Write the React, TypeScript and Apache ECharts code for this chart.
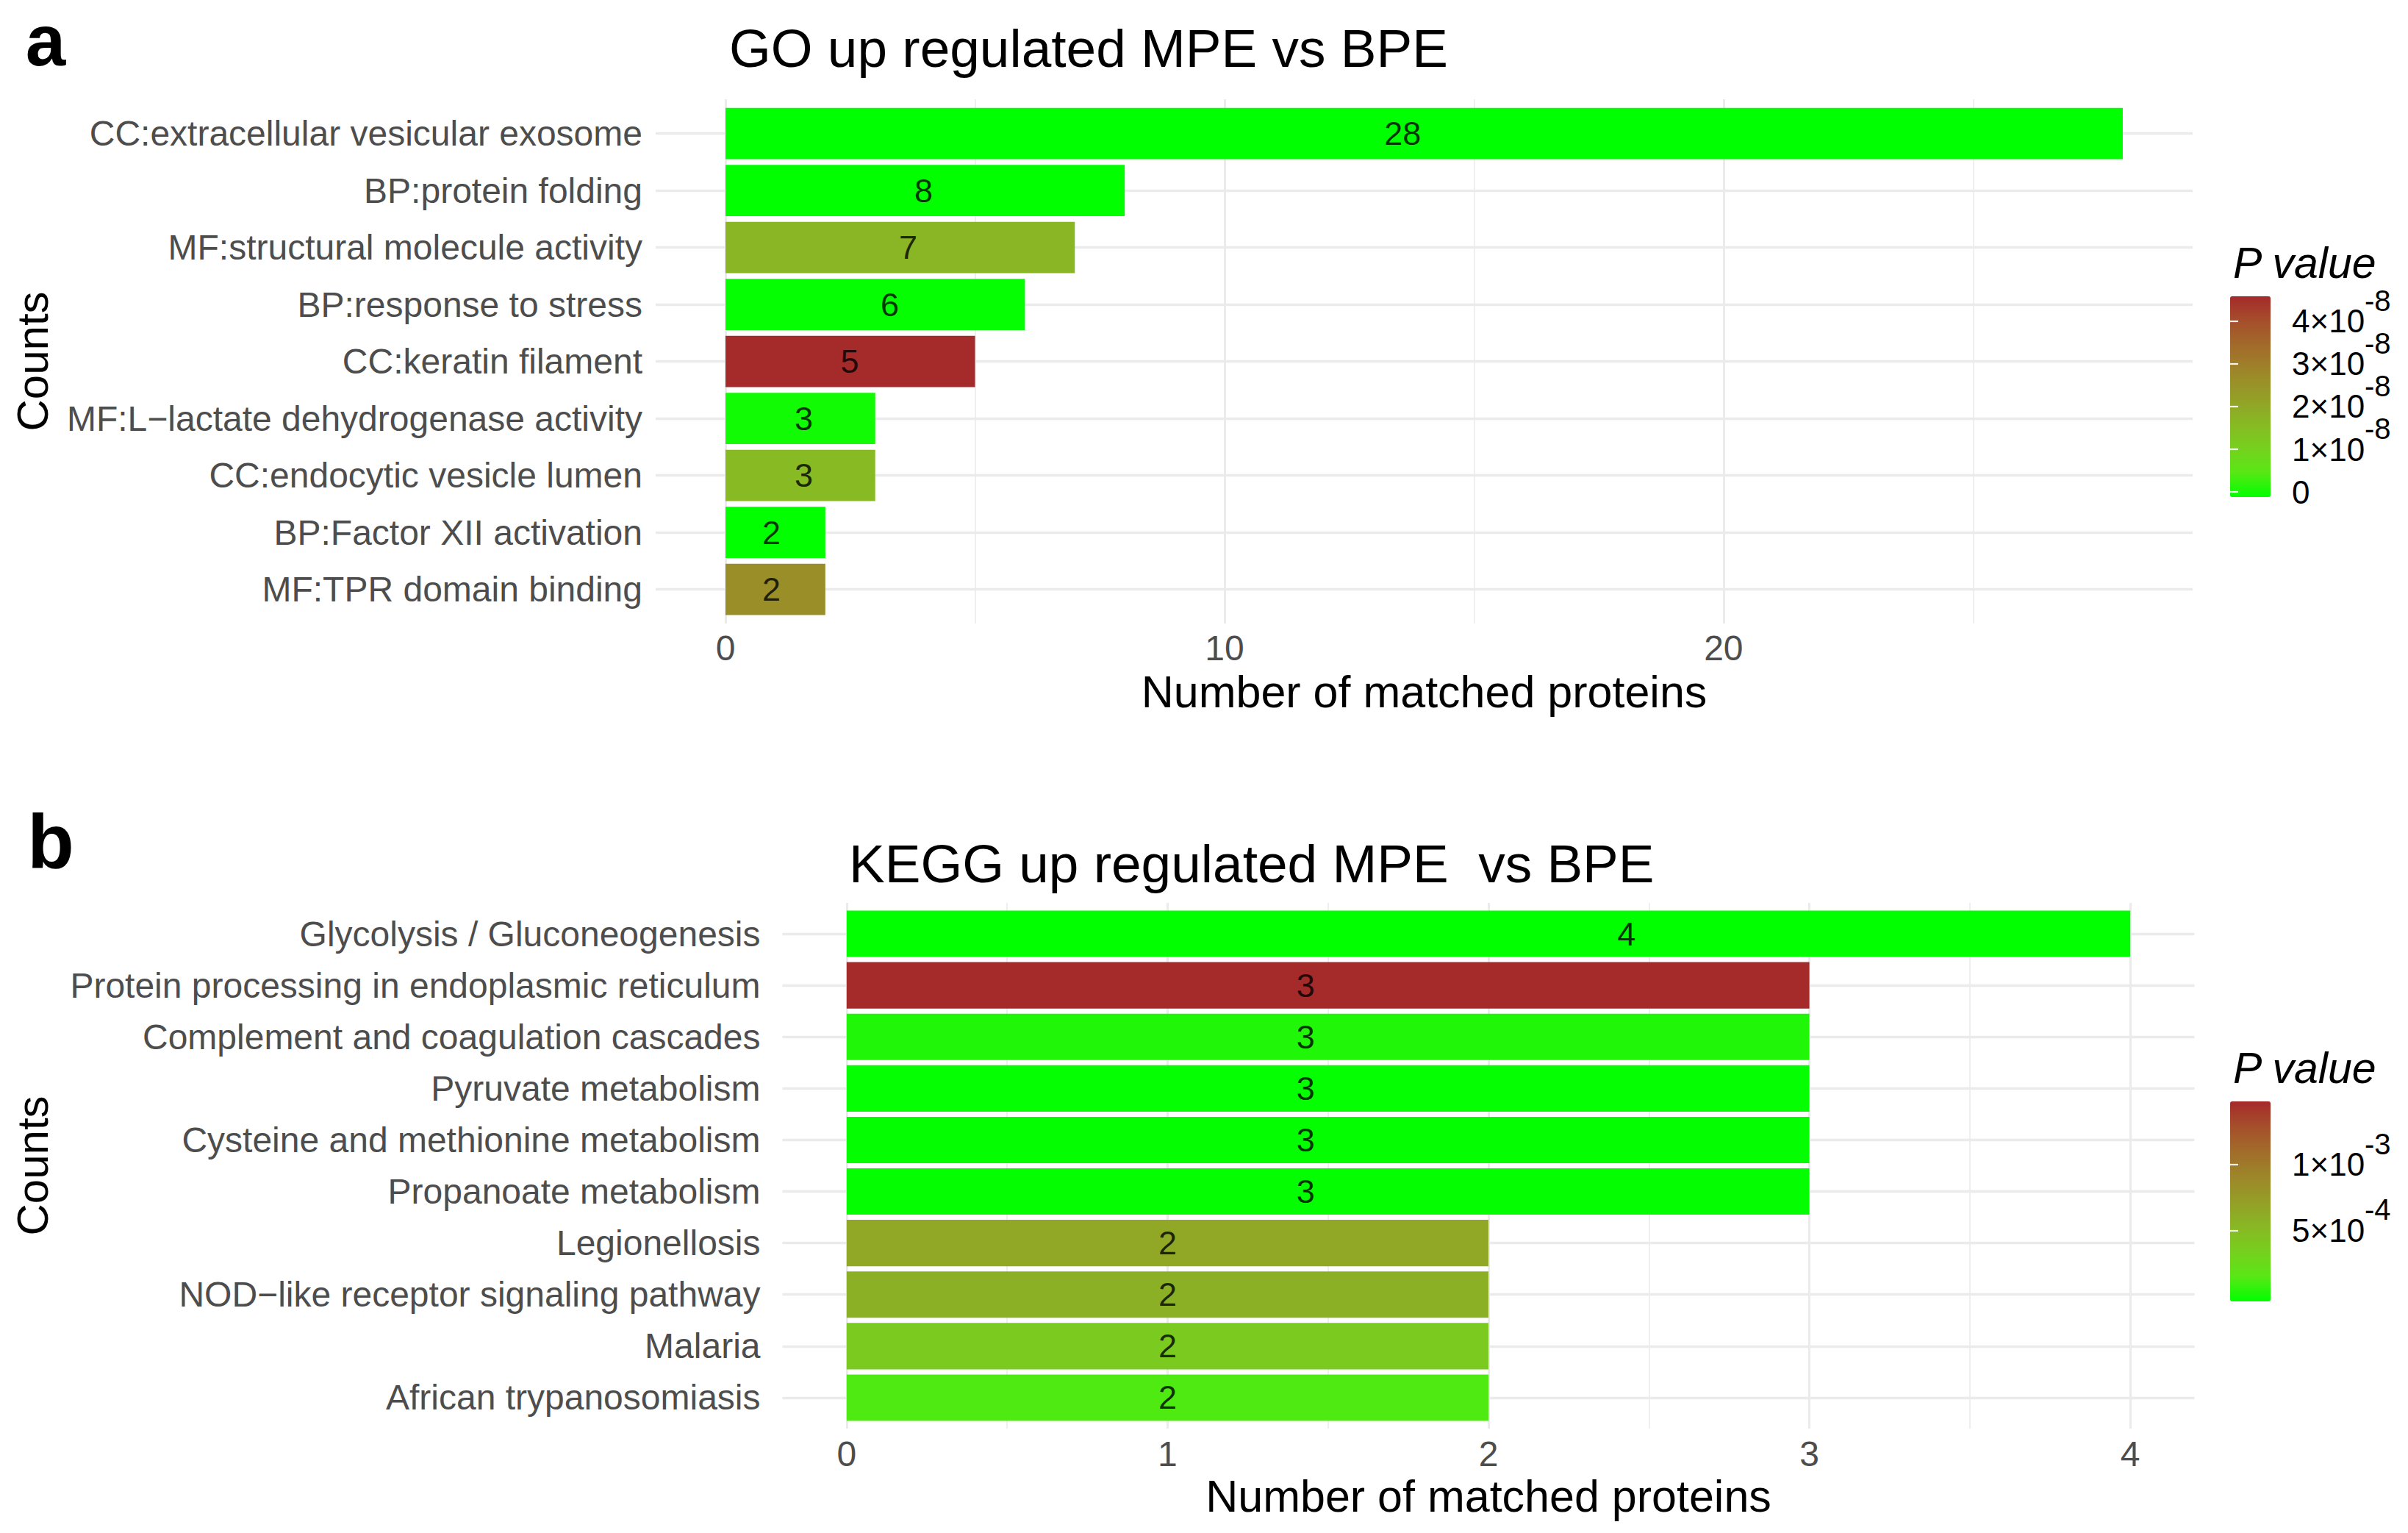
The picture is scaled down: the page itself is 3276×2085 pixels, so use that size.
import React, { useEffect, useRef } from 'react';
import * as echarts from 'echarts';

// ---------------- data ----------------
const goCategories = [
  'CC:extracellular vesicular exosome',
  'BP:protein folding',
  'MF:structural molecule activity',
  'BP:response to stress',
  'CC:keratin filament',
  'MF:L\u2212lactate dehydrogenase activity',
  'CC:endocytic vesicle lumen',
  'BP:Factor XII activation',
  'MF:TPR domain binding',
];
const goCounts = [28, 8, 7, 6, 5, 3, 3, 2, 2];
const goPValues = [2e-12, 5e-11, 1.72e-8, 3e-10, 4.46e-8, 1e-9, 1.6e-8, 1e-10, 2.6e-8];
const goLabelX = [13.57, 3.97, 3.66, 3.29, 2.49, 1.57, 1.57, 0.92, 0.92];

const keggCategories = [
  'Glycolysis / Gluconeogenesis',
  'Protein processing in endoplasmic reticulum',
  'Complement and coagulation cascades',
  'Pyruvate metabolism',
  'Cysteine and methionine metabolism',
  'Propanoate metabolism',
  'Legionellosis',
  'NOD\u2212like receptor signaling pathway',
  'Malaria',
  'African trypanosomiasis',
];
const keggCounts = [4, 3, 3, 3, 3, 3, 2, 2, 2, 2];
const keggPValues = [2e-6, 1.44e-3, 6.5e-5, 1e-5, 8e-6, 8e-6, 6.5e-4, 5.9e-4, 4.0e-4, 1.6e-4];
const keggLabelX = [2.43, 1.43, 1.43, 1.43, 1.43, 1.43, 1.0, 1.0, 1.0, 1.0];

const goXTicks = [0, 10, 20];
const goXMinor = [5, 15, 25];
const goXRange = [-1.4, 29.4];
const keggXTicks = [0, 1, 2, 3, 4];
const keggXMinor = [0.5, 1.5, 2.5, 3.5];
const keggXRange = [-0.2, 4.2];

const goLegendTicks = [0, 1e-8, 2e-8, 3e-8, 4e-8];
const goLegendMantissa = ['0', '1\u00d710', '2\u00d710', '3\u00d710', '4\u00d710'];
const goLegendExponent = ['', '-8', '-8', '-8', '-8'];
const goPRange = [0, 4.46e-8];

const keggLegendTicks = [5e-4, 1e-3];
const keggLegendMantissa = ['5\u00d710', '1\u00d710'];
const keggLegendExponent = ['-4', '-3'];
const keggPRange = [0, 1.44e-3];

// gradient green -> brown, sampled along a Lab interpolation
const gradientColors = [
  'rgb(0,255,0)', 'rgb(90,231,21)', 'rgb(119,207,30)', 'rgb(137,183,36)', 'rgb(149,158,39)',
  'rgb(157,134,41)', 'rgb(162,108,42)', 'rgb(165,79,43)', 'rgb(165,42,42)',
];

const FONT = '"Liberation Sans", Arial, Helvetica, sans-serif';
const GRID_COLOR = '#EBEBEB';
const AXIS_TEXT = '#4D4D4D';

function gridLineSeries(xAxisIndex: number, yAxisIndex: number, major: number[], minor: number[], n: number) {
  const rows = Array.from({ length: n }, (_, i) => i + 1);
  return {
    type: 'scatter',
    xAxisIndex,
    yAxisIndex,
    data: [],
    silent: true,
    z: 0,
    markLine: {
      silent: true,
      z: 0,
      symbol: ['none', 'none'],
      label: { show: false },
      emphasis: { disabled: true },
      lineStyle: { color: GRID_COLOR, type: 'solid', width: 3 },
      data: [
        ...minor.map((v) => ({ xAxis: v, lineStyle: { color: GRID_COLOR, type: 'solid', width: 1.6 } })),
        ...major.map((v) => ({ xAxis: v, lineStyle: { color: GRID_COLOR, type: 'solid', width: 3 } })),
        ...rows.map((v) => ({ yAxis: v, lineStyle: { color: GRID_COLOR, type: 'solid', width: 3.4 } })),
      ],
    },
  };
}

function pickLabel(ticks: number[], labels: string[], span: number) {
  return (v: number) => {
    const i = ticks.findIndex((t) => Math.abs(t - v) < span * 1e-4);
    return i < 0 ? '' : labels[i];
  };
}

const MANT_SIZE = 44;
const EXP_SIZE = 40;
const MANT_WIDTH = 99; // width of "4×10" at MANT_SIZE
const EXP_RAISE = 28;

function legendRange(pRange: number[]) {
  const span = pRange[1] - pRange[0];
  const pad = span / 38; // half a colour bin (20 bins), as in the reference colourbar
  return { min: pRange[0] - pad, max: pRange[1] + pad, span };
}

function legendAxes(gridIndex: number, expGridIndex: number, ticks: number[], mant: string[], exp: string[], pRange: number[]) {
  const r = legendRange(pRange);
  const common = {
    gridIndex,
    type: 'value',
    min: r.min,
    max: r.max,
    z: 10,
    axisLine: { show: false },
    splitLine: { show: false },
    axisTick: {
      show: true,
      inside: true,
      length: 11,
      customValues: ticks,
      lineStyle: { color: '#FFFFFF', width: 2.2, opacity: 0.9 },
    },
  };
  return [
    {
      ...common,
      position: 'right',
      axisLabel: {
        show: true,
        customValues: ticks,
        margin: 29,
        fontSize: MANT_SIZE,
        fontFamily: FONT,
        color: '#000',
        formatter: pickLabel(ticks, mant, r.span),
      },
    },
    { ...common, position: 'left', axisLabel: { show: false } },
    {
      gridIndex: expGridIndex,
      type: 'value',
      min: r.min,
      max: r.max,
      position: 'right',
      z: 10,
      axisLine: { show: false },
      splitLine: { show: false },
      axisTick: { show: false },
      axisLabel: {
        show: true,
        customValues: ticks.filter((_, i) => exp[i] !== ''),
        margin: 29 + MANT_WIDTH,
        fontSize: EXP_SIZE,
        fontFamily: FONT,
        color: '#000',
        formatter: pickLabel(ticks, exp, r.span),
      },
    },
  ];
}

function textEl(text: string, x: number, y: number, size: number, opts: any = {}) {
  return {
    type: 'text',
    x,
    y,
    rotation: opts.rotation || 0,
    silent: true,
    style: {
      text,
      fill: opts.color || '#000',
      fontSize: size,
      fontFamily: FONT,
      fontWeight: opts.weight || 'normal',
      fontStyle: opts.style || 'normal',
      align: opts.align || 'left',
      verticalAlign: 'middle',
    },
  };
}

// layout
const A = { left: 892, width: 2091, top: 135, height: 713 };
const B = { left: 1064.5, width: 1921, top: 1228, height: 715 };
const bandA = A.height / (goCategories.length + 0.2);
const bandB = B.height / (keggCategories.length + 0.2);
const LEG_A = { left: 3034, top: 403, width: 55, height: 273 };
const LEG_B = { left: 3034, top: 1498, width: 55, height: 272 };

export default function App() {
  const ref = useRef<HTMLDivElement>(null);

  useEffect(() => {
    if (!ref.current) return;
    const chart = echarts.init(ref.current, null, { renderer: 'svg', width: 3276, height: 2085 });

    const xLabel = (ticks: number[], margin: number) => ({
      show: true,
      customValues: ticks,
      fontSize: 48,
      fontFamily: FONT,
      color: AXIS_TEXT,
      margin,
    });

    const barLabel = {
      show: true, position: 'inside', fontSize: 45, fontFamily: FONT, color: '#000',
      formatter: (p: any) => String(p.value[2]),
    };

    const option: any = {
      animation: false,
      backgroundColor: '#FFFFFF',
      textStyle: { fontFamily: FONT },
      grid: [
        { left: A.left, top: A.top, width: A.width, height: A.height },
        { left: A.left, top: A.top + bandA * 0.1, width: A.width, height: bandA * goCategories.length },
        { left: B.left, top: B.top, width: B.width, height: B.height },
        { left: B.left, top: B.top + bandB * 0.1, width: B.width, height: bandB * keggCategories.length },
        { ...LEG_A },
        { ...LEG_B },
        { ...LEG_A, top: LEG_A.top - EXP_RAISE },
        { ...LEG_B, top: LEG_B.top - EXP_RAISE },
      ],
      xAxis: [
        {
          gridIndex: 0, type: 'value', min: goXRange[0], max: goXRange[1],
          axisLine: { show: false }, axisTick: { show: false }, splitLine: { show: false },
          axisLabel: xLabel(goXTicks, 9),
        },
        { gridIndex: 1, type: 'value', min: goXRange[0], max: goXRange[1], show: false },
        {
          gridIndex: 2, type: 'value', min: keggXRange[0], max: keggXRange[1],
          axisLine: { show: false }, axisTick: { show: false }, splitLine: { show: false },
          axisLabel: xLabel(keggXTicks, 10),
        },
        { gridIndex: 3, type: 'value', min: keggXRange[0], max: keggXRange[1], show: false },
        { gridIndex: 4, type: 'value', min: 0, max: 1, show: false },
        { gridIndex: 5, type: 'value', min: 0, max: 1, show: false },
        { gridIndex: 6, type: 'value', min: 0, max: 1, show: false },
        { gridIndex: 7, type: 'value', min: 0, max: 1, show: false },
      ],
      yAxis: [
        { gridIndex: 0, type: 'value', min: 0.4, max: goCategories.length + 0.6, inverse: true, show: false },
        {
          gridIndex: 1, type: 'category', data: goCategories, inverse: true,
          axisLine: { show: false }, axisTick: { show: false }, splitLine: { show: false },
          axisLabel: { interval: 0, fontSize: 48, fontFamily: FONT, color: AXIS_TEXT, margin: 18 },
        },
        { gridIndex: 2, type: 'value', min: 0.4, max: keggCategories.length + 0.6, inverse: true, show: false },
        {
          gridIndex: 3, type: 'category', data: keggCategories, inverse: true,
          axisLine: { show: false }, axisTick: { show: false }, splitLine: { show: false },
          axisLabel: { interval: 0, fontSize: 48, fontFamily: FONT, color: AXIS_TEXT, margin: 30 },
        },
        ...legendAxes(4, 6, goLegendTicks, goLegendMantissa, goLegendExponent, goPRange),
        ...legendAxes(5, 7, keggLegendTicks, keggLegendMantissa, keggLegendExponent, keggPRange),
      ],
      visualMap: [
        {
          type: 'continuous', seriesIndex: 1, dimension: 2,
          min: goPRange[0], max: goPRange[1],
          inRange: { color: gradientColors },
          orient: 'vertical', left: LEG_A.left, top: LEG_A.top, itemWidth: LEG_A.width, itemHeight: LEG_A.height,
          calculable: false, hoverLink: false, padding: 0, showLabel: false, text: null,
        },
        {
          type: 'continuous', seriesIndex: 4, dimension: 2,
          min: keggPRange[0], max: keggPRange[1],
          inRange: { color: gradientColors },
          orient: 'vertical', left: LEG_B.left, top: LEG_B.top, itemWidth: LEG_B.width, itemHeight: LEG_B.height,
          calculable: false, hoverLink: false, padding: 0, showLabel: false, text: null,
        },
      ],
      series: [
        gridLineSeries(0, 0, goXTicks, goXMinor, goCategories.length),
        {
          type: 'bar', xAxisIndex: 1, yAxisIndex: 1, z: 3, barWidth: '90%', silent: true,
          encode: { x: 0, y: 1 },
          data: goCounts.map((c, i) => [c, goCategories[i], goPValues[i]]),
        },
        {
          type: 'scatter', xAxisIndex: 1, yAxisIndex: 1, z: 5, symbolSize: 0, silent: true,
          encode: { x: 0, y: 1 },
          data: goLabelX.map((x, i) => [x, goCategories[i], goCounts[i]]),
          label: barLabel,
        },
        gridLineSeries(2, 2, keggXTicks, keggXMinor, keggCategories.length),
        {
          type: 'bar', xAxisIndex: 3, yAxisIndex: 3, z: 3, barWidth: '90%', silent: true,
          encode: { x: 0, y: 1 },
          data: keggCounts.map((c, i) => [c, keggCategories[i], keggPValues[i]]),
        },
        {
          type: 'scatter', xAxisIndex: 3, yAxisIndex: 3, z: 5, symbolSize: 0, silent: true,
          encode: { x: 0, y: 1 },
          data: keggLabelX.map((x, i) => [x, keggCategories[i], keggCounts[i]]),
          label: barLabel,
        },
      ],
      graphic: {
        elements: [
          textEl('a', 62, 55, 98, { weight: 'bold', align: 'center' }),
          textEl('b', 69, 1144, 104, { weight: 'bold', align: 'center' }),
          textEl('GO up regulated MPE vs BPE', 992, 65, 73),
          textEl('KEGG up regulated MPE  vs BPE', 1155, 1174, 73),
          textEl('Number of matched proteins', A.left + A.width / 2, 941, 61, { align: 'center' }),
          textEl('Number of matched proteins', B.left + B.width / 2, 2035, 61, { align: 'center' }),
          textEl('Counts', 44, A.top + A.height / 2, 60, { align: 'center', rotation: Math.PI / 2 }),
          textEl('Counts', 44, B.top + B.height / 2, 60, { align: 'center', rotation: Math.PI / 2 }),
          textEl('P value', 3038, 358, 59, { style: 'italic' }),
          textEl('P value', 3038, 1453, 59, { style: 'italic' }),
        ],
      },
    };

    chart.setOption(option);
    return () => chart.dispose();
  }, []);

  return (
    <div
      ref={ref}
      style={{ position: 'absolute', left: 0, top: 0, width: 3276, height: 2085, background: '#fff' }}
    />
  );
}
